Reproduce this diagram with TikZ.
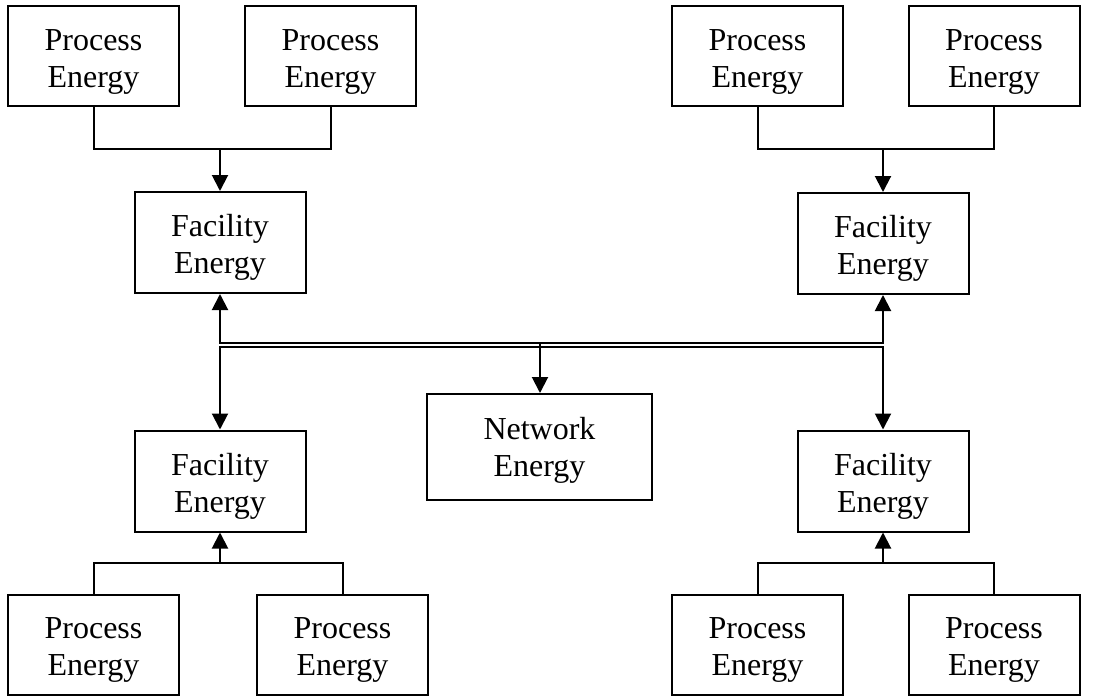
\documentclass[tikz,border=0pt]{standalone}
\usepackage{fontspec}
\setmainfont{Liberation Serif}
\usetikzlibrary{arrows.meta}
\begin{document}
\begin{tikzpicture}[x=1pt,y=-1pt,
  line width=2pt,
  box/.style={draw, line width=2pt, align=center, inner sep=0pt,
    font=\fontsize{32}{37}\selectfont,
    text height=69pt, text depth=7pt},
  procbox/.style={box, minimum width=171pt, minimum height=100pt},
  facbox/.style={box, minimum width=171pt, minimum height=101pt},
  netbox/.style={box, minimum width=225pt, minimum height=106pt},
  arr/.style={-{Triangle[width=16pt,length=16pt]}},
  biarr/.style={{Triangle[width=16pt,length=16pt]}-{Triangle[width=16pt,length=16pt]}}]
\useasboundingbox (0,0) rectangle (1093,696);

% Process energy boxes, top row
\node[procbox] (TL1) at (93.5,56) {Process\\Energy};
\node[procbox] (TL2) at (330.5,56) {Process\\Energy};
\node[procbox] (TR1) at (757.5,56) {Process\\Energy};
\node[procbox] (TR2) at (994,56) {Process\\Energy};

% Facility energy boxes
\node[facbox] (FTL) at (220,242.5) {Facility\\Energy};
\node[facbox] (FTR) at (883,243.5) {Facility\\Energy};
\node[facbox] (FBL) at (220,481) {Facility\\Energy};
\node[facbox] (FBR) at (883,481) {Facility\\Energy};

% Network energy
\node[netbox, text height=65pt] (NET) at (539.5,447) {Network\\Energy};

% Process energy boxes, bottom row
\node[procbox] (BL1) at (93.5,644.5) {Process\\Energy};
\node[procbox] (BL2) at (342.5,644.5) {Process\\Energy};
\node[procbox] (BR1) at (757.5,644.5) {Process\\Energy};
\node[procbox] (BR2) at (994,644.5) {Process\\Energy};

% Junction points
\coordinate (jTL) at (220,149);
\coordinate (jTR) at (883,149);
\coordinate (jBL) at (220,563);
\coordinate (jBR) at (883,563);
\coordinate (busU) at (540,343);
\coordinate (busL) at (540,347);

% Process -> facility, top
\draw (TL1.south) |- (jTL) -| (TL2.south);
\draw[arr] (jTL) -- (FTL.north);
\draw (TR1.south) |- (jTR) -| (TR2.south);
\draw[arr] (jTR) -- (FTR.north);

% Process -> facility, bottom
\draw (BL1.north) |- (jBL) -| (BL2.north);
\draw[arr] (jBL) -- (FBL.south);
\draw (BR1.north) |- (jBR) -| (BR2.north);
\draw[arr] (jBR) -- (FBR.south);

% Network buses
\draw[biarr] (FTL.south) |- (FTR.south |- busU) -- (FTR.south);
\draw[arr] (busU) -- (busU |- NET.north);
\draw[biarr] (FBL.north) |- (FBR.north |- busL) -- (FBR.north);
\end{tikzpicture}
\end{document}
